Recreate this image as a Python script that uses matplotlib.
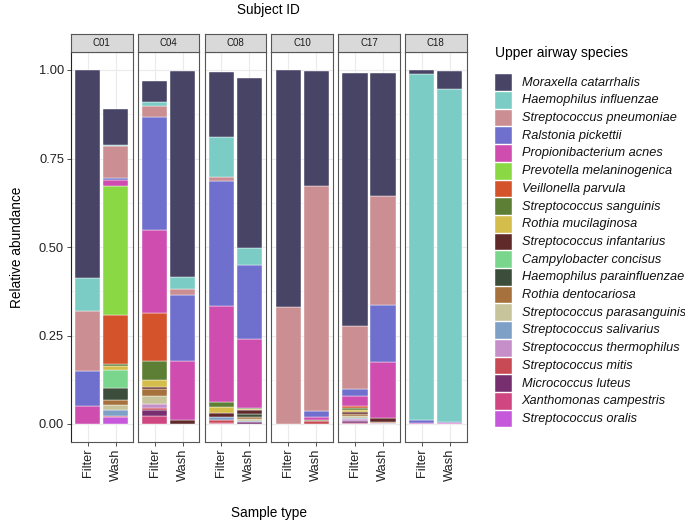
import matplotlib
matplotlib.use("Agg")
import matplotlib.pyplot as plt
from matplotlib.patches import Rectangle

plt.rcParams['font.family'] = ['Liberation Sans', 'DejaVu Sans']

subjects = ["C01", "C04", "C08", "C10", "C17", "C18"]
sample_types = ["Filter", "Wash"]

species = [
    "Moraxella catarrhalis", "Haemophilus influenzae", "Streptococcus pneumoniae",
    "Ralstonia pickettii", "Propionibacterium acnes", "Prevotella melaninogenica",
    "Veillonella parvula", "Streptococcus sanguinis", "Rothia mucilaginosa",
    "Streptococcus infantarius", "Campylobacter concisus", "Haemophilus parainfluenzae",
    "Rothia dentocariosa", "Streptococcus parasanguinis", "Streptococcus salivarius",
    "Streptococcus thermophilus", "Streptococcus mitis", "Micrococcus luteus",
    "Xanthomonas campestris", "Streptococcus oralis",
]
colors = [
    "#474466", "#7ACCC4", "#CB8E92", "#6F6FCD", "#CF4DAF", "#89D844",
    "#D4532B", "#5D7E35", "#D5BD4B", "#602A2A", "#7BD68D", "#3C4E3B",
    "#A6713C", "#C7C49C", "#7E9FC6", "#C78FC9", "#C84A55", "#772F70",
    "#D04680", "#C558DB",
]

# relative abundance per species (same order as `species`)
c01_filter = [0.588, 0.094, 0.168, 0.098, 0.052, 0, 0, 0, 0, 0, 0, 0, 0, 0, 0, 0, 0, 0, 0, 0]
c01_wash   = [0.103, 0.003, 0.089, 0.006, 0.017, 0.364, 0.139, 0.005, 0.012, 0, 0.051, 0.033, 0.014, 0.016, 0.017, 0, 0.003, 0, 0, 0.019]
c04_filter = [0.059, 0.010, 0.032, 0.320, 0.233, 0, 0.135, 0.055, 0.019, 0.006, 0, 0, 0.020, 0.023, 0, 0.010, 0.006, 0.016, 0.024, 0]
c04_wash   = [0.583, 0.033, 0.017, 0.188, 0.165, 0, 0, 0, 0, 0.012, 0, 0, 0, 0, 0, 0, 0, 0, 0, 0]
c08_filter = [0.183, 0.113, 0.012, 0.352, 0.273, 0, 0, 0.013, 0.016, 0.012, 0, 0, 0, 0, 0.009, 0, 0.007, 0, 0.004, 0]
c08_wash   = [0.480, 0.049, 0, 0.210, 0.193, 0, 0, 0.003, 0.004, 0.010, 0, 0.008, 0.006, 0.006, 0.004, 0, 0, 0.005, 0, 0]
c10_filter = [0.670, 0, 0.330, 0, 0, 0, 0, 0, 0, 0, 0, 0, 0, 0, 0, 0, 0, 0, 0, 0]
c10_wash   = [0.327, 0, 0.635, 0.017, 0.009, 0, 0, 0.002, 0, 0, 0, 0, 0, 0, 0, 0, 0.008, 0, 0, 0]
c17_filter = [0.713, 0, 0.178, 0.020, 0.030, 0, 0.004, 0.006, 0.007, 0.006, 0, 0, 0.004, 0.005, 0.005, 0.004, 0, 0.007, 0.002, 0]
c17_wash   = [0.347, 0, 0.310, 0.160, 0.158, 0, 0, 0, 0, 0.010, 0, 0, 0.003, 0.002, 0, 0.002, 0, 0, 0, 0]
c18_filter = [0.012, 0.978, 0, 0.007, 0.003, 0, 0, 0, 0, 0, 0, 0, 0, 0, 0, 0, 0, 0, 0, 0]
c18_wash   = [0.053, 0.940, 0, 0.003, 0.002, 0, 0, 0, 0, 0, 0, 0, 0, 0, 0, 0, 0, 0, 0, 0]

data = {
    "C01": [c01_filter, c01_wash],
    "C04": [c04_filter, c04_wash],
    "C08": [c08_filter, c08_wash],
    "C10": [c10_filter, c10_wash],
    "C17": [c17_filter, c17_wash],
    "C18": [c18_filter, c18_wash],
}

W, H = 685, 523
fig = plt.figure(figsize=(W / 100, H / 100), dpi=100)


def fx(px):
    return px / W


def fy(py):
    return 1 - py / H


left0, pw, gap = 71.0, 61.5, 5.3
ptop, pbot = 52.3, 441.7
strip_top = 34.0
border_col = "#555555"
grid_col = "#EBEBEB"

for i, subj in enumerate(subjects):
    x0 = left0 + i * (pw + gap)
    ax = fig.add_axes([fx(x0), fy(pbot), pw / W, (pbot - ptop) / H])
    ax.set_xlim(0.4, 2.6)
    ax.set_ylim(-0.05, 1.05)
    ax.set_axisbelow(True)
    ax.set_yticks([0, 0.25, 0.5, 0.75, 1.0])
    ax.set_yticks([0.125, 0.375, 0.625, 0.875], minor=True)
    ax.set_xticks([1, 2])
    ax.grid(which="major", color=grid_col, lw=0.8)
    ax.grid(which="minor", axis="y", color=grid_col, lw=0.4)
    for j, vals in enumerate(data[subj]):
        bottom = 0.0
        for k in range(len(species) - 1, -1, -1):
            v = vals[k]
            if v <= 0:
                continue
            ax.bar(j + 1, v, bottom=bottom, width=0.9, color=colors[k],
                   edgecolor="white", linewidth=0.3)
            bottom += v
    ax.set_xticklabels(sample_types, rotation=90, fontsize=9.3, color="#222222")
    ax.tick_params(axis="x", length=3, width=0.6, color="#333333", pad=2)
    for s in ax.spines.values():
        s.set_color(border_col)
        s.set_linewidth(0.8)
    if i == 0:
        ax.set_yticklabels(["0.00", "0.25", "0.50", "0.75", "1.00"], fontsize=9.3, color="#222222")
        ax.tick_params(axis="y", which="major", length=3, width=0.6, color="#333333", pad=2)
        ax.tick_params(axis="y", which="minor", length=0)
        ax.spines["left"].set_color("#222222")
    else:
        ax.tick_params(axis="y", which="both", length=0, labelleft=False)

    # strip
    sax = fig.add_axes([fx(x0), fy(ptop), pw / W, (ptop - strip_top) / H])
    sax.set_facecolor("#D9D9D9")
    sax.set_xticks([])
    sax.set_yticks([])
    for s in sax.spines.values():
        s.set_color(border_col)
        s.set_linewidth(0.8)
    sax.text(0.5, 0.5, subj, ha="center", va="center", fontsize=7.0,
             color="#1A1A1A", transform=sax.transAxes)

center_x = left0 + (6 * pw + 5 * gap) / 2
fig.text(fx(center_x), fy(10), "Subject ID", ha="center", va="center", fontsize=9.8)
fig.text(fx(center_x), fy(513), "Sample type", ha="center", va="center", fontsize=9.8)
fig.text(fx(17), fy((ptop + pbot) / 2), "Relative abundance", ha="center", va="center",
         rotation=90, fontsize=9.8)

# legend
fig.text(fx(495), fy(53), "Upper airway species", ha="left", va="center", fontsize=10)
key_top, pitch, key_w = 74.3, 17.7, 16.7
for k, (name, c) in enumerate(zip(species, colors)):
    ytop = key_top + k * pitch
    fig.add_artist(Rectangle((fx(495), fy(ytop + pitch - 1)), key_w / W, (pitch - 1) / H,
                             transform=fig.transFigure, facecolor=c, edgecolor="white", lw=0.3))
    fig.text(fx(521.7), fy(ytop + (pitch - 1) / 2), name, ha="left", va="center",
             fontsize=9.2, style="italic", color="#111111")

fig.savefig("out.png", dpi=100)
